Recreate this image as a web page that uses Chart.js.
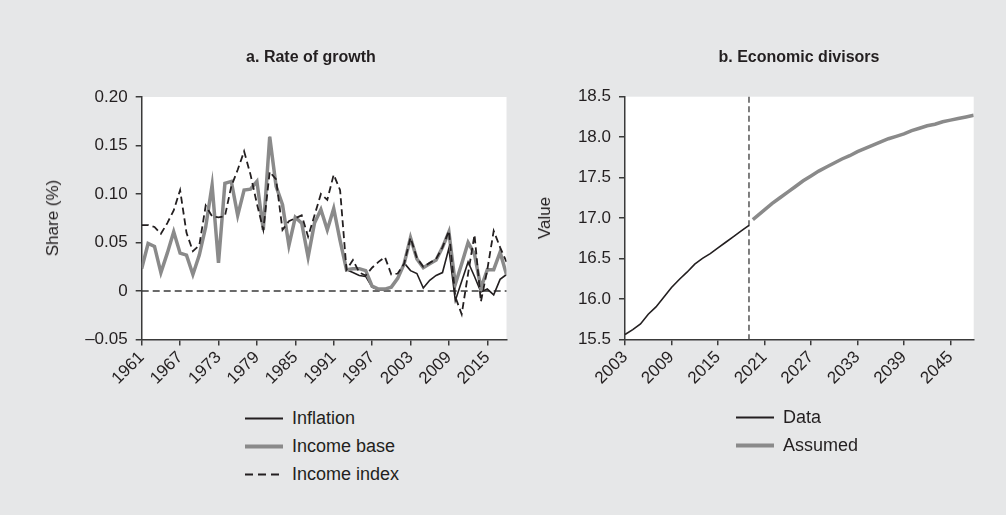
<!DOCTYPE html>
<html><head><meta charset="utf-8">
<script src="https://cdn.jsdelivr.net/npm/chart.js@4/dist/chart.umd.min.js"></script>
<style>
html,body{margin:0;padding:0;background:#e6e7e8;}
#wrap{position:relative;width:1006px;height:515px;background:#e6e7e8;overflow:hidden;font-family:"Liberation Sans",Arial,sans-serif;color:#231f20;}
canvas{position:absolute;top:0;}
.t{position:absolute;font-weight:bold;font-size:16px;transform:translate(-50%,-50%);white-space:nowrap;}
.yt{position:absolute;font-size:17px;transform:translate(-50%,-50%) rotate(-90deg);white-space:nowrap;}
.lg{position:absolute;font-size:18px;display:flex;align-items:center;transform:translateY(-50%);white-space:nowrap;}
.lg svg{margin-right:9px;}
</style></head><body>
<div id="wrap">
<canvas id="c1" width="520" height="400" style="left:0"></canvas>
<canvas id="c2" width="503" height="400" style="left:503px"></canvas>
<div class="t" style="left:311px;top:57px">a. Rate of growth</div>
<div class="t" style="left:799px;top:57px">b. Economic divisors</div>
<div class="yt" style="left:53px;top:218px">Share (%)</div>
<div class="yt" style="left:545px;top:218px">Value</div>
<div class="lg" style="left:245px;top:418px"><svg width="38" height="6"><line x1="0" y1="3" x2="38" y2="3" stroke="#231f20" stroke-width="2"/></svg>Inflation</div>
<div class="lg" style="left:245px;top:446px"><svg width="38" height="6"><line x1="0" y1="3" x2="38" y2="3" stroke="#8a8a8a" stroke-width="4"/></svg>Income base</div>
<div class="lg" style="left:245px;top:474px"><svg width="38" height="6"><line x1="0" y1="3" x2="38" y2="3" stroke="#231f20" stroke-width="2" stroke-dasharray="8 5"/></svg>Income index</div>
<div class="lg" style="left:736px;top:417px"><svg width="38" height="6"><line x1="0" y1="3" x2="38" y2="3" stroke="#231f20" stroke-width="2"/></svg>Data</div>
<div class="lg" style="left:736px;top:445px"><svg width="38" height="6"><line x1="0" y1="3" x2="38" y2="3" stroke="#8a8a8a" stroke-width="4"/></svg>Assumed</div>
</div>
<script>
// ---- Panel a data ----
const yearsA = [1961,1962,1963,1964,1965,1966,1967,1968,1969,1970,1971,1972,1973,1974,1975,1976,1977,1978,1979,1980,
 1981,1982,1983,1984,1985,1986,1987,1988,1989,1990,1991,1992,1993,1994,1995,1996,1997,1998,1999,2000,
 2001,2002,2003,2004,2005,2006,2007,2008,2009,2010,2011,2012,2013,2014,2015,2016,2017,2018];
const inflation = [0.023,0.049,0.046,0.019,0.039,0.061,0.039,0.037,0.017,0.037,0.066,0.109,0.029,0.111,0.113,0.078,0.104,0.105,0.113,0.063,
 0.159,0.108,0.089,0.047,0.076,0.070,0.035,0.070,0.084,0.063,0.085,0.052,0.022,0.019,0.016,0.015,0.004,0.001,0.001,0.004,
 0.013,0.029,0.021,0.018,0.003,0.011,0.016,0.019,0.044,-0.010,0.010,0.030,0.015,-0.001,0.002,-0.004,0.012,0.017];
const incomeBase = [0.023,0.049,0.046,0.019,0.039,0.061,0.039,0.037,0.017,0.037,0.066,0.109,0.029,0.111,0.113,0.078,0.104,0.105,0.113,0.063,
 0.159,0.108,0.089,0.047,0.076,0.070,0.035,0.070,0.084,0.063,0.085,0.052,0.022,0.023,0.023,0.021,0.005,0.002,0.002,0.004,
 0.013,0.028,0.055,0.033,0.024,0.028,0.032,0.045,0.061,0.007,0.028,0.050,0.038,0.003,0.022,0.022,0.040,0.017];
const incomeIndex = [0.068,0.068,0.066,0.059,0.070,0.083,0.104,0.060,0.041,0.047,0.088,0.077,0.076,0.077,0.108,0.125,0.144,0.120,0.090,0.063,
 0.123,0.115,0.063,0.072,0.075,0.078,0.056,0.078,0.100,0.094,0.120,0.104,0.022,0.032,0.019,0.016,0.024,0.030,0.035,0.017,
 0.018,0.028,0.055,0.034,0.025,0.029,0.033,0.045,0.062,-0.006,-0.024,0.018,0.058,-0.011,0.022,0.062,0.045,0.030];
const xTicksA = [1961,1967,1973,1979,1985,1991,1997,2003,2009,2015];
const yTicksA = [-0.05,0,0.05,0.10,0.15,0.20];
const yTickLabelsA = ['\u20130.05','0','0.05','0.10','0.15','0.20'];
const zeroLineA = [0];

// ---- Panel b data ----
const dataYears = [2003,2004,2005,2006,2007,2008,2009,2010,2011,2012,2013,2014,2015,2016,2017,2018,2019];
const dataVals = [15.56,15.62,15.69,15.81,15.90,16.02,16.14,16.24,16.33,16.43,16.50,16.56,16.63,16.70,16.77,16.84,16.91];
const assumedYears = [2019.5,2020,2021,2022,2023,2024,2025,2026,2027,2028,2029,2030,2031,2032,2033,2034,2035,2036,2037,2038,2039,2040,2041,2042,2043,2044,2045,2046,2047,2048];
const assumedVals = [16.98,17.02,17.10,17.18,17.25,17.32,17.39,17.46,17.52,17.58,17.63,17.68,17.73,17.77,17.82,17.86,17.90,17.94,17.98,18.01,18.04,18.08,18.11,18.14,18.16,18.19,18.21,18.23,18.25,18.27];
const xTicksB = [2003,2009,2015,2021,2027,2033,2039,2045];
const yTicksB = [15.5,16.0,16.5,17.0,17.5,18.0,18.5];
const yTickLabelsB = ['15.5','16.0','16.5','17.0','17.5','18.0','18.5'];
const cutoffB = [2019];

const INK = '#231f20', GREY = '#8a8a8a', AXIS = '#3a3a3a';
const tickFont = {family:'"Liberation Sans", Arial, sans-serif', size:17};

const plotBg = { id:'plotBg', beforeDraw(chart){ const {ctx, chartArea:a} = chart; ctx.save(); ctx.fillStyle='#ffffff'; ctx.fillRect(a.left, a.top, a.right-a.left, a.bottom-a.top); ctx.restore(); } };
const refLines = { id:'refLines', beforeDatasetsDraw(chart, args, o){ const {ctx, chartArea:a, scales} = chart; ctx.save(); ctx.strokeStyle=o.color; ctx.lineWidth=o.width; ctx.setLineDash(o.dash);
  (o.y||[]).forEach(v=>{ const p=scales.y.getPixelForValue(v); ctx.beginPath(); ctx.moveTo(a.left,p); ctx.lineTo(a.right,p); ctx.stroke(); });
  (o.x||[]).forEach(v=>{ const p=scales.x.getPixelForValue(v); ctx.beginPath(); ctx.moveTo(p,a.top); ctx.lineTo(p,a.bottom); ctx.stroke(); });
  ctx.restore(); } };

function pts(xs, ys){ return xs.map((x,i)=>({x:x, y:ys[i]})); }
function axes(xmin, xmax, xTicks, ymin, ymax, yTicks, yLabels, yW, xH){
  const grid = {display:true, drawOnChartArea:false, drawTicks:true, tickLength:6, color:AXIS, lineWidth:1.5};
  const border = {display:true, color:AXIS, width:1.5};
  return {
    x:{type:'linear', min:xmin, max:xmax, afterBuildTicks:s=>{ s.ticks = xTicks.map(v=>({value:v})); },
       ticks:{autoSkip:false, minRotation:45, maxRotation:45, font:tickFont, color:INK, padding:2, callback:v=>String(v)},
       grid:grid, border:border, afterFit:s=>{ s.height = xH; }},
    y:{type:'linear', min:ymin, max:ymax, afterBuildTicks:s=>{ s.ticks = yTicks.map(v=>({value:v})); },
       ticks:{font:tickFont, color:INK, padding:8, callback:(v,i)=>yLabels[i]},
       grid:grid, border:border, afterFit:s=>{ s.width = yW; }}
  };
}
const common = {responsive:false, animation:false, devicePixelRatio:1, elements:{point:{radius:0}, line:{tension:0}}};

new Chart(document.getElementById('c1'), {
  type:'line',
  data:{datasets:[
    {label:'Inflation', data:pts(yearsA, inflation), borderColor:INK, borderWidth:1.6, order:2},
    {label:'Income base', data:pts(yearsA, incomeBase), borderColor:GREY, borderWidth:3.5, order:1},
    {label:'Income index', data:pts(yearsA, incomeIndex), borderColor:INK, borderWidth:1.8, borderDash:[7,4], order:0}
  ]},
  options:Object.assign({}, common, {
    layout:{padding:{left:0, top:97, right:13.5, bottom:0}},
    scales:axes(1961, 2018, xTicksA, -0.05, 0.20, yTicksA, yTickLabelsA, 141.7, 60.5),
    plugins:{legend:{display:false}, tooltip:{enabled:false}, refLines:{y:zeroLineA, color:'#3a3a3a', width:1.3, dash:[7,4]}}
  }),
  plugins:[plotBg, refLines]
});

new Chart(document.getElementById('c2'), {
  type:'line',
  data:{datasets:[
    {label:'Data', data:pts(dataYears, dataVals), borderColor:INK, borderWidth:1.6},
    {label:'Assumed', data:pts(assumedYears, assumedVals), borderColor:GREY, borderWidth:3.5}
  ]},
  options:Object.assign({}, common, {
    layout:{padding:{left:0, top:96.7, right:32.3, bottom:0}},
    scales:axes(2003, 2048, xTicksB, 15.5, 18.5, yTicksB, yTickLabelsB, 122, 60.7),
    plugins:{legend:{display:false}, tooltip:{enabled:false}, refLines:{x:cutoffB, color:'#555', width:1.5, dash:[6,3.5]}}
  }),
  plugins:[plotBg, refLines]
});
</script>
</body></html>
